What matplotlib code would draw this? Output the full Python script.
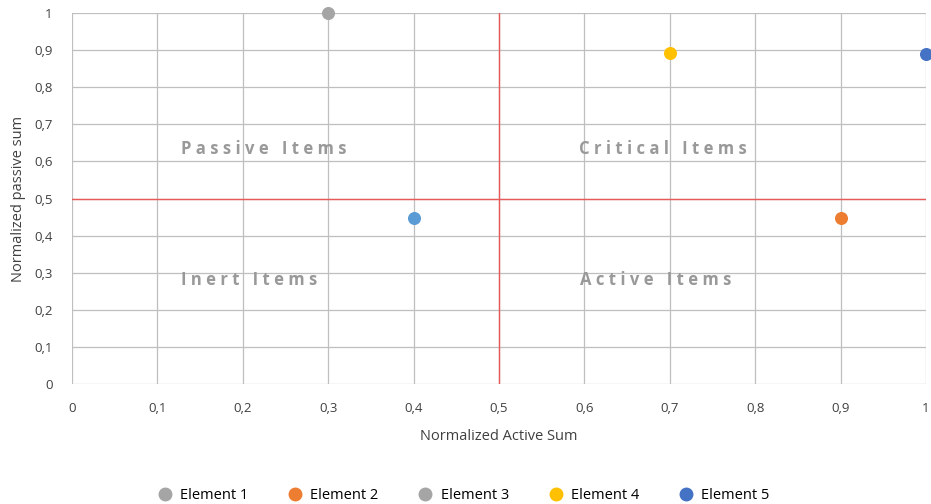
import matplotlib.pyplot as plt
from matplotlib.lines import Line2D

# data
elements = ['Element 1', 'Element 2', 'Element 3', 'Element 4', 'Element 5']
active_sum = [0.3, 0.9, 0.4, 0.7, 1.0]
passive_sum = [1.0, 0.447, 0.447, 0.893, 0.89]
ticks = [0, 0.1, 0.2, 0.3, 0.4, 0.5, 0.6, 0.7, 0.8, 0.9, 1]
quadrants = ['Passive Items', 'Critical Items', 'Inert Items', 'Active Items']
quad_x = [0.224, 0.692, 0.208, 0.683]
quad_y = [0.633, 0.633, 0.28, 0.28]

point_colors = ['#A5A5A5', '#ED7D31', '#5B9BD5', '#FFC000', '#4472C4']
legend_colors = ['#A5A5A5', '#ED7D31', '#A5A5A5', '#FFC000', '#4472C4']

plt.rcParams['font.family'] = ['Open Sans', 'DejaVu Sans']

fig = plt.figure(figsize=(9.31, 5.04), dpi=100)
ax = fig.add_axes([0.0773, 0.238, 0.9173, 0.736])

ax.set_xlim(0, 1)
ax.set_ylim(0, 1)
ax.set_xticks(ticks)
ax.set_yticks(ticks)
fmt = lambda v: ('%g' % v).replace('.', ',')
ax.set_xticklabels([fmt(t) for t in ticks])
ax.set_yticklabels([fmt(t) for t in ticks])
ax.tick_params(length=0, labelsize=9.5, colors='#404040')
ax.tick_params(axis='x', pad=13)
ax.tick_params(axis='y', pad=14)
for s in ax.spines.values():
    s.set_visible(False)
ax.grid(True, color='#BFBFBF', linewidth=0.9)
ax.set_axisbelow(True)

# quadrant dividers
ax.axvline(0.5, color='#E85A5A', linewidth=1.0)
ax.axhline(0.5, color='#E85A5A', linewidth=1.0)

for name, x, y, c in zip(elements, active_sum, passive_sum, point_colors):
    ax.scatter(x, y, s=70, color=c, zorder=5, clip_on=False)

for label, x, y in zip(quadrants, quad_x, quad_y):
    ax.text(x, y, ' '.join(label), ha='center', va='center', fontsize=12,
            fontweight='bold', color='#999999')

ax.set_xlabel('Normalized Active Sum', fontsize=10.5, color='#404040', labelpad=10)
ax.set_ylabel('Normalized passive sum', fontsize=10.5, color='#404040', labelpad=6)

handles = [Line2D([], [], marker='o', linestyle='', markersize=9, color=c)
           for c in legend_colors]
fig.legend(handles, elements, loc='center', bbox_to_anchor=(0.494, 0.017), ncol=5,
           frameon=False, fontsize=10.5, handletextpad=0.05, columnspacing=2.2)

fig.savefig('out.png', dpi=100)
